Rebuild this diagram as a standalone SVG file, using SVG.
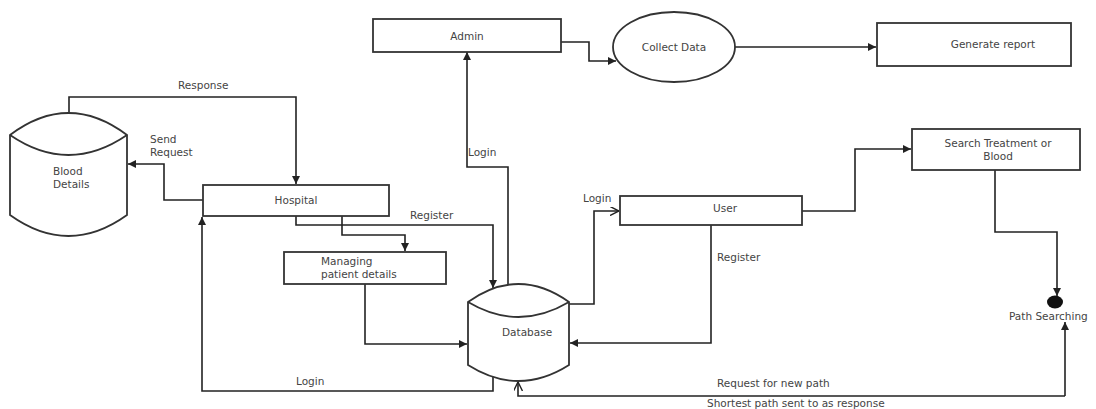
<svg xmlns="http://www.w3.org/2000/svg" width="1096" height="409" viewBox="0 0 1096 409">
<defs>
<marker id="fa" viewBox="0 0 10 10" refX="10" refY="5" markerWidth="8" markerHeight="8" markerUnits="userSpaceOnUse" orient="auto"><path d="M0,0 L10,5 L0,10 z" fill="#222"/></marker>
<marker id="oa" viewBox="0 0 10 10" refX="10" refY="5" markerWidth="9" markerHeight="9" markerUnits="userSpaceOnUse" orient="auto"><path d="M0,0 L10,5 L0,10" fill="none" stroke="#222" stroke-width="1.6"/></marker>
</defs>
<style>
.s{fill:#fff;stroke:#333;stroke-width:1.8}
.c{fill:none;stroke:#222;stroke-width:1.6}
.f{marker-end:url(#fa)}
.o{marker-end:url(#oa)}
text{font-family:"DejaVu Sans",sans-serif;font-size:10.5px;fill:#444}
.m{text-anchor:middle}
</style>
<rect width="1096" height="409" fill="#fff"/>

<g id="connectors">
<path class="c f" d="M69,113 V97 H296 V184"/>
<path class="c f" d="M203,200 H164 V164 H128"/>
<path class="c f" d="M296,216 V225 H493 V288"/>
<path class="c f" d="M342,216 V235 H405 V251"/>
<path class="c f" d="M365,284 V344 H467"/>
<path class="c f" d="M493,377 V391 H202 V217"/>
<path class="c f" d="M508,285 V167 H467 V52"/>
<path class="c f" d="M561,42 H589 V61 H616"/>
<path class="c f" d="M735,47 H876"/>
<path class="c o" d="M569,304 H594 V211 H619"/>
<path class="c f" d="M711,225 V343 H570"/>
<path class="c f" d="M802,211 H855 V149 H911"/>
<path class="c f" d="M995,170 V232 H1057 V296"/>
<path class="c o" d="M1065,396 H518 V382"/>
<path class="c f" d="M1065,396 V322"/>
<text x="178" y="89">Response</text>
<text x="150" y="143">Send</text>
<text x="150" y="156">Request</text>
<text x="410" y="219">Register</text>
<text x="296" y="385">Login</text>
<text x="468" y="156">Login</text>
<text x="583" y="202">Login</text>
<text x="717" y="261">Register</text>
<text x="717" y="387">Request for new path</text>
<text x="707" y="407">Shortest path sent to as response</text>
</g>

<g id="blood-details">
<path class="s" d="M10,135 Q68.5,91 127,135 V215 Q68.5,257 10,215 Z"/>
<path class="c" style="stroke:#333;stroke-width:1.8" d="M10,135 Q68.5,175 127,135"/>
<text x="53" y="175">Blood</text>
<text x="53" y="188">Details</text>
</g>

<g id="hospital">
<rect class="s" x="203" y="185" width="186" height="31"/>
<text class="m" x="296" y="204">Hospital</text>
</g>

<g id="managing">
<rect class="s" x="284" y="252" width="162" height="32"/>
<text x="321" y="265">Managing</text>
<text x="321" y="278">patient details</text>
</g>

<g id="database">
<path class="s" d="M468,302 Q518.5,266 569,302 V365 Q518.5,397 468,365 Z"/>
<path class="c" style="stroke:#333;stroke-width:1.8" d="M468,302 Q518.5,332 569,302"/>
<text x="502" y="336">Database</text>
</g>

<g id="admin">
<rect class="s" x="373" y="19" width="188" height="33"/>
<text class="m" x="467" y="40">Admin</text>
</g>

<g id="collect-data">
<ellipse class="s" cx="674" cy="47" rx="61" ry="35"/>
<text class="m" x="674" y="51">Collect Data</text>
</g>

<g id="generate-report">
<rect class="s" x="877" y="23" width="194" height="43"/>
<text class="m" x="993" y="48">Generate report</text>
</g>

<g id="user">
<rect class="s" x="620" y="196" width="182" height="29"/>
<text class="m" x="725" y="212">User</text>
</g>

<g id="search">
<rect class="s" x="912" y="129" width="168" height="41"/>
<text class="m" x="998" y="147">Search Treatment or</text>
<text class="m" x="998" y="160">Blood</text>
</g>

<g id="path-searching">
<ellipse cx="1055" cy="302" rx="8" ry="6.5" fill="#111"/>
<text x="1009" y="320">Path Searching</text>
</g>
</svg>
